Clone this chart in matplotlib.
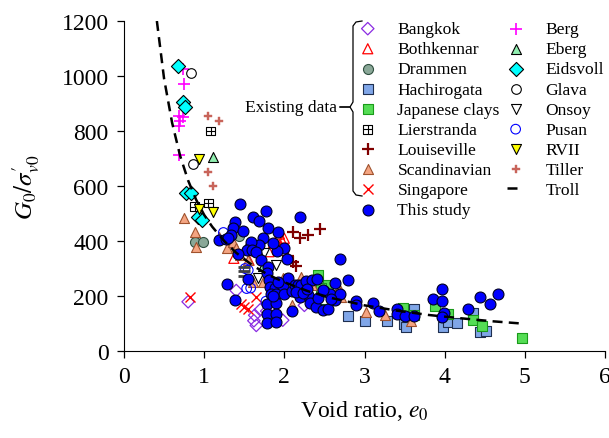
import matplotlib
matplotlib.use("Agg")
import matplotlib.pyplot as plt
from matplotlib.path import Path
from matplotlib.lines import Line2D


# Existing data sets (void ratio e0, G0/sigma'v0)
bangkok_e = [0.80, 1.40, 1.63, 1.65, 1.62, 1.78, 1.98, 2.25, 1.70]
bangkok_g = [179, 220, 130, 93, 110, 145, 112, 166, 150]

bothkennar_e = [1.37, 1.56, 1.81, 1.94, 1.97, 1.96, 2.00]
bothkennar_g = [337, 330, 361, 425, 402, 380, 410]

drammen_e = [0.88, 0.985, 1.43]
drammen_g = [398, 398, 418]

hachirogata_e = [2.79, 3.01, 3.28, 3.49, 3.52, 3.62, 3.98, 4.04, 4.16, 4.35, 4.44, 4.51]
hachirogata_g = [126, 110, 108, 100, 88, 154, 88, 106, 102, 140, 70, 73]

japanese_e = [2.42, 2.54, 2.50, 2.46, 2.30, 2.60, 3.48, 3.62, 3.88, 4.04, 4.35, 4.46, 4.96]
japanese_g = [277, 240, 154, 228, 250, 205, 158, 130, 162, 134, 114, 90, 48]

lierstranda_e = [1.08, 0.88, 1.05]
lierstranda_g = [800, 525, 538]

louiseville_e = [2.11, 2.19, 2.29, 2.44, 2.11, 2.15, 2.05]
louiseville_g = [431, 410, 422, 443, 325, 310, 345]

scandinavian_e = [0.75, 0.89, 0.90, 1.19, 1.28, 1.36, 1.40, 1.45, 1.55, 1.61, 1.73,
                  1.98, 2.09, 2.21, 2.69, 2.67, 2.71, 3.02, 3.25, 3.58, 2.35, 2.00]
scandinavian_g = [483, 431, 380, 416, 376, 398, 373, 350, 330, 252, 252,
                  264, 166, 270, 221, 227, 197, 142, 130, 108, 240, 220]

singapore_e = [0.82, 1.46, 1.55, 1.50, 1.65]
singapore_g = [197, 170, 154, 160, 197]

berg_e = [0.74, 0.75, 0.69, 0.74, 0.70, 0.69, 0.68]
berg_g = [1025, 972, 855, 850, 835, 818, 712]

eberg_e = [1.11, 1.55, 1.73]
eberg_g = [705, 388, 310]

eidsvoll_e = [0.67, 0.74, 0.76, 0.77, 0.83, 0.92, 0.97]
eidsvoll_g = [1035, 905, 888, 575, 575, 487, 478]

glava_e = [0.83, 0.86]
glava_g = [1010, 680]

onsoy_e = [1.89, 1.75, 1.67]
onsoy_g = [312, 355, 266]

pusan_e = [1.24, 1.51, 1.53, 1.58, 1.77, 1.55]
pusan_g = [431, 300, 227, 229, 181, 294]

rvii_e = [0.94, 1.11, 0.94]
rvii_g = [700, 505, 515]

tiller_e = [1.05, 1.18, 1.05, 1.11]
tiller_g = [854, 836, 651, 600]

troll_e = [0.41, 0.5, 0.6, 0.7, 0.8, 0.9, 1.0, 1.1, 1.25, 1.4, 1.6, 1.8, 2.0,
           2.3, 2.6, 3.0, 3.4, 3.8, 4.2, 4.6, 5.0]
troll_g = [1200, 990, 830, 710, 620, 550, 495, 452, 400, 357, 312, 277, 250,
           217, 192, 166, 147, 131, 119, 108, 99]
troll_pts_e = [1.50, 1.50, 1.50]
troll_pts_g = [307, 290, 274]

# This study
study_e = [1.45, 1.61, 1.68, 1.77, 2.19,
           1.39, 1.36, 1.34, 1.18, 1.27, 1.30, 1.48, 1.80, 1.73, 1.92,
           2.00, 1.91, 1.86, 1.68, 1.58, 1.53, 1.42, 1.60, 1.65, 1.71, 1.80, 2.03, 2.69,
           1.55, 1.79, 1.81, 1.82, 1.88, 1.98, 2.04, 1.83, 1.90, 1.99, 2.09, 2.13, 2.17,
           2.21, 2.27, 2.35, 2.41, 2.19, 2.29, 2.32, 2.39, 2.42, 2.48, 2.54, 2.50, 2.57,
           2.63, 2.69, 2.63, 2.79, 2.48,
           1.29, 1.39, 1.79, 1.89, 1.79, 1.89, 1.79, 1.89, 2.10, 2.90, 2.89, 3.10, 3.18,
           3.41, 3.41, 3.50, 3.62, 3.85, 3.97, 3.97, 3.99, 3.97, 4.29, 4.44, 4.57, 4.66,
           2.15, 2.23, 2.28, 1.92, 1.86, 2.58]
study_g = [534, 489, 471, 510, 487,
           470, 446, 422, 404, 407, 412, 436, 449, 412, 431,
           376, 364, 393, 386, 398, 366, 351, 366, 361, 332, 305, 334, 334,
           262, 282, 258, 234, 230, 234, 266, 209, 209, 209, 218, 240, 240,
           240, 254, 258, 261, 197, 203, 173, 161, 193, 148, 152, 218, 209,
           185, 209, 246, 260, 221,
           243, 185, 170, 173, 134, 136, 103, 106, 145, 181, 166, 176, 146,
           154, 136, 128, 128, 188, 227, 181, 140, 124, 152, 195, 172, 207,
           215, 212, 225, 250, 200, 190]


def boxed_plus():
    verts = [(-1, -1), (1, -1), (1, 1), (-1, 1), (-1, -1),
             (0, -1), (0, 1), (-1, 0), (1, 0)]
    codes = [Path.MOVETO, Path.LINETO, Path.LINETO, Path.LINETO, Path.CLOSEPOLY,
             Path.MOVETO, Path.LINETO, Path.MOVETO, Path.LINETO]
    return Path(verts, codes)


def px(x, y):
    # pixel position (from top-left) -> figure fraction
    return x / 609, 1 - y / 439


def main():
    plt.rcParams["font.family"] = "Liberation Serif"
    plt.rcParams["mathtext.fontset"] = "stix"

    fig = plt.figure(figsize=(6.09, 4.39), dpi=100)
    ax = fig.add_axes([124 / 609, 87 / 439, 481 / 609, 330 / 439])

    s = 40
    h = {}
    h["Bangkok"] = ax.scatter(bangkok_e, bangkok_g, s=s, marker="D", facecolors="none",
                              edgecolors="#8a2be2", linewidths=0.9)
    h["Bothkennar"] = ax.scatter(bothkennar_e, bothkennar_g, s=s + 12, marker="^",
                                 facecolors="none", edgecolors="red", linewidths=0.9)
    h["Drammen"] = ax.scatter(drammen_e, drammen_g, s=s + 12, marker="o", facecolors="#8aa898",
                              edgecolors="#2f4f3f", linewidths=0.8)
    h["Hachirogata"] = ax.scatter(hachirogata_e, hachirogata_g, s=s + 6, marker="s",
                                  facecolors="#80a6e8", edgecolors="#1f2f4f", linewidths=0.8)
    h["Japanese clays"] = ax.scatter(japanese_e, japanese_g, s=s + 6, marker="s",
                                     facecolors="#55dd55", edgecolors="#1a9a1a", linewidths=0.8)
    h["Lierstranda"] = ax.scatter(lierstranda_e, lierstranda_g, s=s, marker=boxed_plus(),
                                  facecolors="none", edgecolors="black", linewidths=0.8)
    h["Louiseville"] = ax.scatter(louiseville_e, louiseville_g, s=s + 45, marker="+",
                                  color="#800000", linewidths=1.6)
    h["Scandinavian"] = ax.scatter(scandinavian_e, scandinavian_g, s=s + 12, marker="^",
                                   facecolors="#f4a582", edgecolors="#a0522d", linewidths=0.8)
    h["Singapore"] = ax.scatter(singapore_e, singapore_g, s=s + 12, marker="x",
                                color="red", linewidths=1.0)
    h["Berg"] = ax.scatter(berg_e, berg_g, s=s + 35, marker="+", color="magenta", linewidths=1.2)
    h["Eberg"] = ax.scatter(eberg_e, eberg_g, s=s + 12, marker="^", facecolors="#90eeb0",
                            edgecolors="black", linewidths=0.8)
    h["Eidsvoll"] = ax.scatter(eidsvoll_e, eidsvoll_g, s=s + 12, marker="D", facecolors="cyan",
                               edgecolors="black", linewidths=0.8)
    h["Glava"] = ax.scatter(glava_e, glava_g, s=s + 8, marker="o", facecolors="white",
                            edgecolors="black", linewidths=0.8)
    h["Onsoy"] = ax.scatter(onsoy_e, onsoy_g, s=s + 12, marker="v", facecolors="white",
                            edgecolors="black", linewidths=0.8)
    h["Pusan"] = ax.scatter(pusan_e, pusan_g, s=s + 8, marker="o", facecolors="none",
                            edgecolors="blue", linewidths=0.8)
    h["RVII"] = ax.scatter(rvii_e, rvii_g, s=s + 12, marker="v", facecolors="yellow",
                           edgecolors="black", linewidths=0.8)
    h["Tiller"] = ax.scatter(tiller_e, tiller_g, s=s - 6, marker="P", facecolors="#c8645a",
                             edgecolors="#c8645a", linewidths=0.3)
    ax.scatter(troll_pts_e, troll_pts_g, s=s + 40, marker="_", color="#404040", linewidths=2)
    h["This study"] = ax.scatter(study_e, study_g, s=62, marker="o", facecolors="#0000ff",
                                 edgecolors="#000022", linewidths=0.8, zorder=3)
    ax.plot(troll_e, troll_g, color="black", lw=1.8, dashes=(4, 2.5), zorder=4)
    # legend shows a single dash for Troll
    h["Troll"] = Line2D([], [], color="black", lw=1.8, dashes=(4, 10))

    ax.set_xlim(0, 6)
    ax.set_ylim(0, 1200)
    ax.set_xticks(range(0, 7))
    ax.set_yticks(range(0, 1201, 200))
    ax.spines["top"].set_visible(False)
    ax.spines["right"].set_visible(False)
    ax.tick_params(direction="out", length=5, width=0.9, labelsize=17, pad=6)
    ax.set_xlabel("Void ratio, $e_0$", fontsize=17, labelpad=8)
    ax.set_ylabel(r"$G_0/\sigma^{\prime}_{v0}$", fontsize=18, labelpad=14)

    order = ["Bangkok", "Bothkennar", "Drammen", "Hachirogata", "Japanese clays",
             "Lierstranda", "Louiseville", "Scandinavian", "Singapore", "This study",
             "Berg", "Eberg", "Eidsvoll", "Glava", "Onsoy", "Pusan", "RVII", "Tiller", "Troll"]
    x0, y0 = px(359, 22)
    ax.legend([h[k] for k in order], order, ncol=2, loc="upper left",
              bbox_to_anchor=(x0, y0), bbox_transform=fig.transFigure,
              frameon=False, fontsize=12.6, handlelength=1.0, handletextpad=1.2,
              columnspacing=0.4, labelspacing=0.22, borderpad=0, borderaxespad=0,
              scatterpoints=1)

    # bracket grouping the existing data
    top = [px(362, 22), px(356, 23), px(353, 27), px(353, 103), px(350, 108), px(340, 108)]
    bot = [px(340, 108), px(350, 108), px(353, 113), px(353, 192), px(356, 196), px(362, 197)]
    for pts in (top, bot):
        fig.add_artist(Line2D([p[0] for p in pts], [p[1] for p in pts],
                              color="black", lw=0.9, transform=fig.transFigure))
    tx, ty = px(337, 108)
    fig.text(tx, ty, "Existing data", ha="right", va="center", fontsize=12.6)

    fig.savefig("out.png", dpi=100)


if __name__ == "__main__":
    main()
